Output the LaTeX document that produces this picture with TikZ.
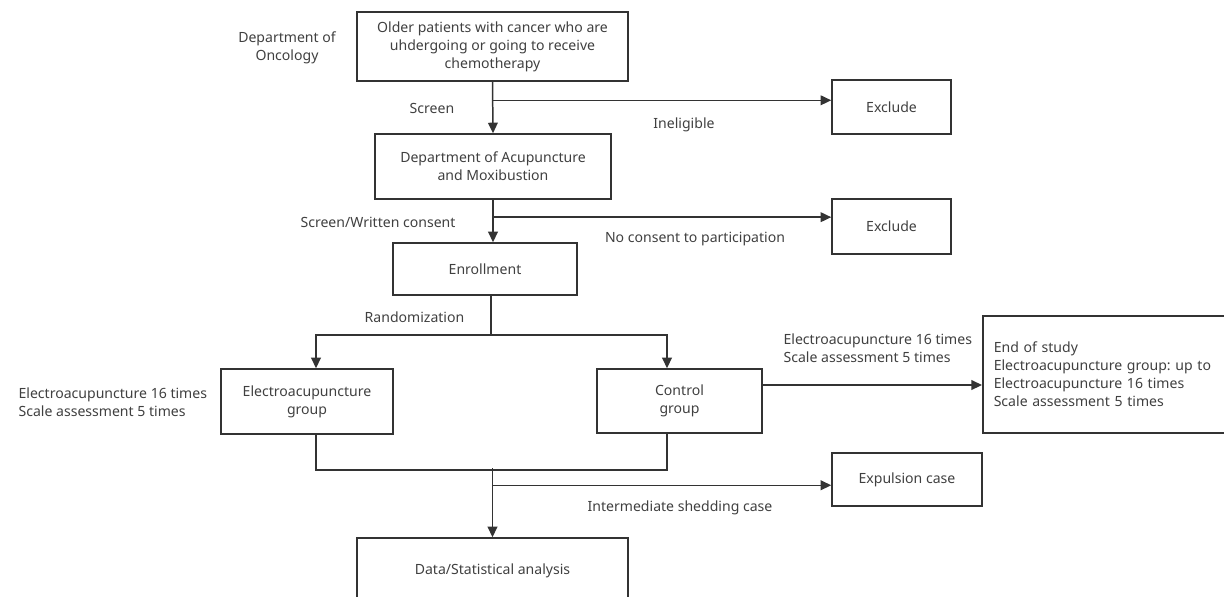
\documentclass[tikz,border=0pt]{standalone}
\usepackage{fontspec}
\setmainfont{Noto Sans}
\usepackage{xcolor}
\usetikzlibrary{arrows.meta, calc}
\frenchspacing

\begin{document}
\begin{tikzpicture}[x=0.02cm, y=-0.02cm, line width=0.85pt, draw=black!80,
        every node/.style={font=\fontsize{8}{10.3}\selectfont, text=black!75},
        box/.style 2 args={draw=black!80, align=center, inner sep=0pt,
            minimum width=#1*0.02cm, minimum height=#2*0.02cm},
        arr/.style={-{Triangle[length=6pt, width=5.5pt]}}]
        \useasboundingbox (0,0) rectangle (1224,596);
        % boxes
        \node[box={271}{69}] (older) at (492.5,46.5) {Older patients with cancer who are\\uhdergoing or going to receive\\chemotherapy};
        \node[box={236}{65}] (acu) at (493,166.5) {Department of Acupuncture\\and Moxibustion};
        \node[box={184}{52}] (enr) at (485,269) {Enrollment};
        \node[box={119}{54}] (exA) at (891.5,107) {Exclude};
        \node[box={119}{55}] (exB) at (891.5,226.5) {Exclude};
        \node[box={172}{65}] (ea) at (307,401.5) {Electroacupuncture\\group};
        \node[box={165}{64}] (ctrl) at (679.5,401) {Control\\group};
        \node[box={248}{117}, align=left, anchor=west, inner xsep=0.22cm, text width=4.52cm] (end) at (982,374.5) {End of study\\Electroacupuncture group: up to\\Electroacupuncture 16 times\\Scale assessment 5 times};
        \node[box={150}{53}] (exp) at (907,479.5) {Expulsion case};
        \node[box={271}{66}] (data) at (492.5,571) {Data/Statistical analysis};
        % labels
        \node[align=center] (onc) at (287,47.5) {Department of\\Oncology};
        \node (scr) at (432,108) {Screen};
        \node (inel) at (684,125) {Ineligible};
        \node (wrc) at (378,222) {Screen/Written consent};
        \node (nocon) at (695,239) {No consent to participation};
        \node (rand) at (414.5,317) {Randomization};
        \node[align=left, anchor=west] (eaTxt) at (12,402) {Electroacupuncture 16 times\\Scale assessment 5 times};
        \node[align=left, anchor=west] (ctrlTxt) at (777,348) {Electroacupuncture 16 times\\Scale assessment 5 times};
        \node (shed) at (680,508) {Intermediate shedding case};
        % connectors
        \draw[arr] (older.south) -- (acu.north);
        \coordinate (b1) at ($(older.south)!0.36!(acu.north)$);
        \draw[arr] (b1) -- (b1 -| exA.west);
        \draw[arr] (acu.south) -- (acu.south |- enr.north);
        \coordinate (b2) at ($(acu.south)!0.41!(acu.south |- enr.north)$);
        \draw[arr] (b2) -- (b2 -| exB.west);
        \coordinate (rnd) at ($(acu.south |- enr.south)+(-2,39)$);
        \draw (rnd |- enr.south) -- (rnd);
        \draw[arr] (rnd) -| ([xshift=0.18cm]ea.north);
        \draw[arr] (rnd) -| ([xshift=-0.25cm]ctrl.north);
        \draw[arr] ([yshift=0.32cm]ctrl.east) -- ([yshift=0.32cm]ctrl.east -| end.west);
        \draw ([xshift=0.18cm]ea.south) -- ++(0,35) -| ([xshift=-0.25cm]ctrl.south);
        \coordinate (mg) at ($(data.north)+(0,-69)$);
        \draw[arr] (mg) -- (data.north);
        \coordinate (b3) at ($(data.north)+(0,-52)$);
        \draw[arr] (b3) -- (b3 -| exp.west);
\end{tikzpicture}
\end{document}
